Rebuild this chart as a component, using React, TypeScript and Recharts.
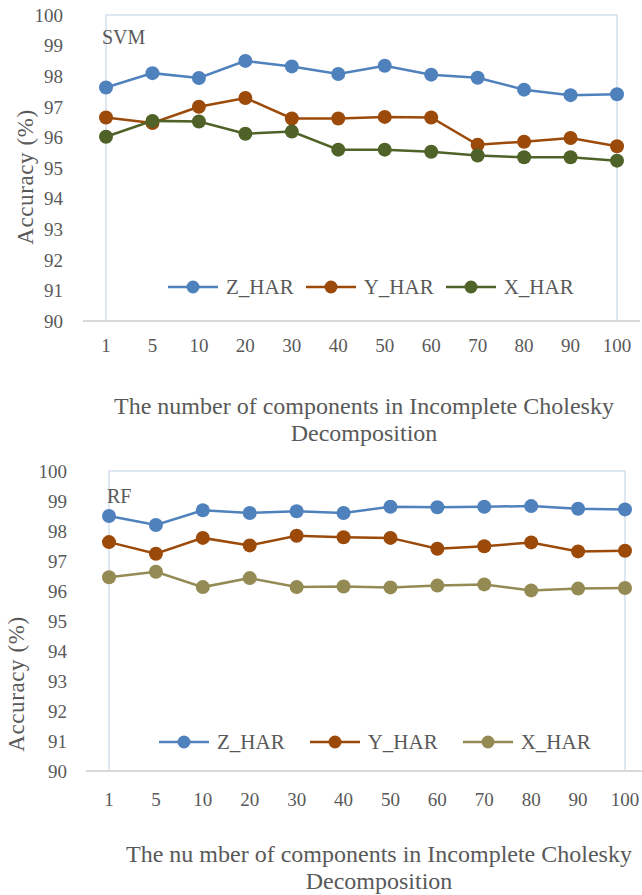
import React from 'react';
import {
  LineChart,
  Line,
  XAxis,
  YAxis,
  ReferenceArea,
  Legend,
} from 'recharts';

const components = ['1', '5', '10', '20', '30', '40', '50', '60', '70', '80', '90', '100'];
const yTicks = [90, 91, 92, 93, 94, 95, 96, 97, 98, 99, 100];
const seriesOrder = ['Z_HAR', 'Y_HAR', 'X_HAR'];

const svmZ = [97.63, 98.1, 97.94, 98.5, 98.32, 98.07, 98.34, 98.05, 97.95, 97.56, 97.38, 97.41];
const svmY = [96.65, 96.47, 97.0, 97.29, 96.62, 96.62, 96.67, 96.65, 95.76, 95.86, 95.98, 95.71];
const svmX = [96.02, 96.54, 96.52, 96.12, 96.19, 95.6, 95.6, 95.53, 95.41, 95.35, 95.35, 95.24];

const rfZ = [98.5, 98.2, 98.69, 98.6, 98.66, 98.6, 98.81, 98.79, 98.81, 98.83, 98.74, 98.72];
const rfY = [97.63, 97.24, 97.77, 97.52, 97.84, 97.79, 97.77, 97.41, 97.49, 97.62, 97.32, 97.34];
const rfX = [96.46, 96.64, 96.13, 96.43, 96.13, 96.15, 96.12, 96.18, 96.22, 96.02, 96.08, 96.1];

const FONT = 'Liberation Serif, DejaVu Serif, serif';
const TEXT = '#595959';

const colors = {
  z: '#4F81BD',
  y: '#9C4A0A',
  xSvm: '#4F6228',
  xRf: '#948A54',
};

const svmData = components.map((n, i) => ({ n, Z_HAR: svmZ[i], Y_HAR: svmY[i], X_HAR: svmX[i] }));
const rfData = components.map((n, i) => ({ n, Z_HAR: rfZ[i], Y_HAR: rfY[i], X_HAR: rfX[i] }));

const makeLegend = (gap: number) => (props: any) => {
  const items = [...(props.payload || [])].sort(
    (a: any, b: any) => seriesOrder.indexOf(a.value) - seriesOrder.indexOf(b.value),
  );
  return (
    <div style={{ display: 'flex', alignItems: 'center', fontFamily: FONT, fontSize: 21, color: TEXT }}>
      {items.map((it: any, i: number) => (
        <div key={it.value} style={{ display: 'flex', alignItems: 'center', marginLeft: i === 0 ? 0 : gap }}>
          <svg width={50} height={16}>
            <line x1={0} y1={8} x2={50} y2={8} stroke={it.color} strokeWidth={2.5} />
            <circle cx={25} cy={8} r={6.5} fill={it.color} />
          </svg>
          <span style={{ marginLeft: 8, lineHeight: '22px' }}>{it.value}</span>
        </div>
      ))}
    </div>
  );
};

const tickStyle = { fontFamily: FONT, fontSize: 19, fill: TEXT };

interface PanelProps {
  data: any[];
  xColor: string;
  width: number;
  height: number;
  margin: { top: number; right: number; bottom: number; left: number };
  yWidth: number;
  xTickMargin: number;
  yTickMargin: number;
  legendTop: number;
  legendLeft: number;
  legendGap: number;
}

const Panel: React.FC<PanelProps> = ({
  data, xColor, width, height, margin, yWidth, xTickMargin, yTickMargin, legendTop, legendLeft, legendGap,
}) => (
  <LineChart width={width} height={height} data={data} margin={margin} style={{ fontFamily: FONT }}>
    <ReferenceArea y1={90} y2={100} fill="none" stroke="#D5DFEE" strokeWidth={1.5} ifOverflow="visible" />
    <XAxis
      dataKey="n"
      height={40}
      padding={{ left: 23, right: 23 }}
      tick={tickStyle}
      tickLine={false}
      tickMargin={xTickMargin}
      axisLine={{ stroke: '#D9D9D9', strokeWidth: 2 }}
      interval={0}
    />
    <YAxis
      width={yWidth}
      domain={[90, 100]}
      ticks={yTicks}
      tick={tickStyle}
      tickLine={false}
      axisLine={false}
      tickMargin={yTickMargin}
      interval={0}
    />
    <Legend
      content={makeLegend(legendGap)}
      wrapperStyle={{ position: 'absolute', top: legendTop, left: legendLeft, width: 'auto' }}
    />
    <Line dataKey="Z_HAR" stroke={colors.z} strokeWidth={2.5} dot={{ r: 7, fill: colors.z, stroke: 'none' }} activeDot={false} isAnimationActive={false} />
    <Line dataKey="Y_HAR" stroke={colors.y} strokeWidth={2.5} dot={{ r: 7, fill: colors.y, stroke: 'none' }} activeDot={false} isAnimationActive={false} />
    <Line dataKey="X_HAR" stroke={xColor} strokeWidth={2.5} dot={{ r: 7, fill: xColor, stroke: 'none' }} activeDot={false} isAnimationActive={false} />
  </LineChart>
);

const abs = (left: number, top: number, extra: React.CSSProperties = {}): React.CSSProperties => ({
  position: 'absolute',
  left,
  top,
  fontFamily: FONT,
  color: TEXT,
  whiteSpace: 'nowrap',
  ...extra,
});

const App: React.FC = () => (
  <div style={{ position: 'absolute', left: 0, top: 0, width: 642, height: 895, overflow: 'hidden', background: '#fff', fontFamily: FONT }}>
    <div style={{ position: 'absolute', left: 0, top: 0 }}>
      <Panel
        data={svmData}
        xColor={colors.xSvm}
        width={642}
        height={450}
        margin={{ top: 15, right: 2, bottom: 67, left: 0 }}
        yWidth={83}
        xTickMargin={12}
        yTickMargin={14}
        legendTop={276}
        legendLeft={168}
        legendGap={12}
      />
    </div>
    <div style={{ position: 'absolute', left: 0, top: 440 }}>
      <Panel
        data={rfData}
        xColor={colors.xRf}
        width={660}
        height={455}
        margin={{ top: 31, right: 12, bottom: 62, left: 0 }}
        yWidth={86}
        xTickMargin={16}
        yTickMargin={13}
        legendTop={291}
        legendLeft={159}
        legendGap={25}
      />
    </div>

    <div style={abs(102, 26, { fontSize: 20 })}>SVM</div>
    <div style={abs(107, 485, { fontSize: 20 })}>RF</div>

    <div style={abs(26, 177, { fontSize: 23, letterSpacing: 0.6, transform: 'translate(-50%, -50%) rotate(-90deg)' })}>Accuracy (%)</div>
    <div style={abs(17, 684, { fontSize: 23, letterSpacing: 0.6, transform: 'translate(-50%, -50%) rotate(-90deg)' })}>Accuracy (%)</div>

    <div style={abs(364, 393, { fontSize: 24, transform: 'translateX(-50%)', textAlign: 'center', lineHeight: '27px' })}>
      The number of components in Incomplete Cholesky
      <br />
      Decomposition
    </div>
    <div style={abs(379, 841, { fontSize: 24, transform: 'translateX(-50%)', textAlign: 'center', lineHeight: '27px' })}>
      The nu mber of components in Incomplete Cholesky
      <br />
      Decomposition
    </div>
  </div>
);

export default App;
